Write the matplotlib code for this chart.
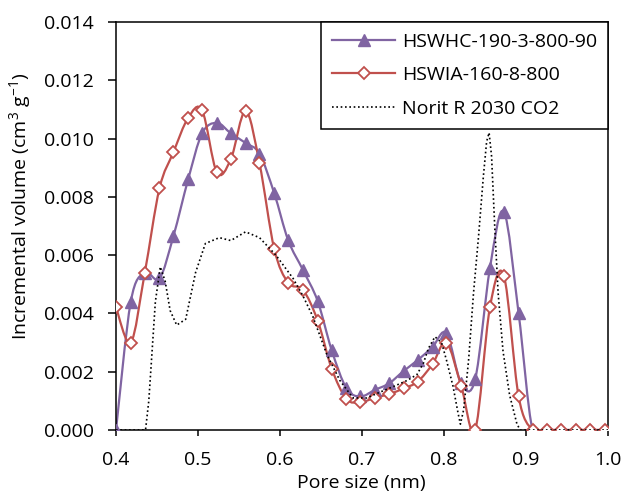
import numpy as np
import matplotlib
matplotlib.use("Agg")
import matplotlib.pyplot as plt
from matplotlib.path import Path
from matplotlib.patches import PathPatch
from matplotlib.lines import Line2D
from matplotlib.ticker import FormatStrFormatter, MultipleLocator

# pore sizes (nm) of the marker series
pore = [0.400, 0.418, 0.435, 0.453, 0.470, 0.488, 0.505, 0.523, 0.540, 0.558,
        0.575, 0.593, 0.610, 0.628, 0.646, 0.663, 0.681, 0.698, 0.716, 0.733,
        0.751, 0.768, 0.786, 0.803, 0.821, 0.838, 0.856, 0.873, 0.891, 0.908,
        0.926, 0.943, 0.961, 0.978, 0.996]

hswhc = [0.0000, 0.00440, 0.00540, 0.00520, 0.00665, 0.00860, 0.01018, 0.01054,
         0.01018, 0.00985, 0.00948, 0.00812, 0.00651, 0.00549, 0.00442, 0.00274,
         0.00143, 0.00115, 0.00138, 0.00160, 0.00203, 0.00240, 0.00285, 0.00332,
         0.00160, 0.00174, 0.00555, 0.00749, 0.00400, 0.0, 0.0, 0.0, 0.0, 0.0, 0.0]

hswia = [0.00421, 0.00300, 0.00538, 0.00829, 0.00953, 0.01071, 0.01097, 0.00884,
         0.00929, 0.01095, 0.00915, 0.00621, 0.00505, 0.00481, 0.00375, 0.00211,
         0.00107, 0.00095, 0.00111, 0.00123, 0.00143, 0.00166, 0.00226, 0.00300,
         0.00151, 0.0, 0.00421, 0.00530, 0.00115, 0.0, 0.0, 0.0, 0.0, 0.0, 0.0]

# Norit R 2030 CO2 reference curve
norit_x = [0.400, 0.436, 0.440, 0.444, 0.448, 0.454, 0.460, 0.466, 0.474, 0.485,
           0.497, 0.509, 0.526, 0.540, 0.558, 0.575, 0.595, 0.616, 0.628, 0.640,
           0.657, 0.673, 0.689, 0.706, 0.722, 0.739, 0.755, 0.767, 0.775, 0.781,
           0.789, 0.797, 0.803, 0.811, 0.817, 0.820, 0.824, 0.830, 0.836, 0.842,
           0.848, 0.852, 0.855, 0.858, 0.862, 0.866, 0.872, 0.880, 0.889, 0.893,
           1.000]
norit_y = [0.0, 0.0, 0.0010, 0.0027, 0.0044, 0.0056, 0.0051, 0.0041, 0.0036, 0.0038,
           0.0054, 0.0064, 0.0066, 0.0065, 0.0068, 0.0066, 0.0060, 0.0052, 0.0046, 0.0039,
           0.0026, 0.0017, 0.0011, 0.0011, 0.0013, 0.0015, 0.0017, 0.0019, 0.0023, 0.0028,
           0.0032, 0.0030, 0.0024, 0.0015, 0.0006, 0.0002, 0.0007, 0.0024, 0.0047, 0.0066,
           0.0087, 0.0099, 0.0102, 0.0094, 0.0069, 0.0047, 0.0027, 0.0012, 0.0002, 0.0,
           0.0]

names = ["HSWHC-190-3-800-90", "HSWIA-160-8-800", "Norit R 2030 CO2"]
purple = "#8064A2"
red = "#C0504D"

plt.rcParams['font.family'] = ['Open Sans', 'DejaVu Sans']
plt.rcParams['mathtext.fontset'] = 'custom'
plt.rcParams['mathtext.rm'] = 'Open Sans'
plt.rcParams['mathtext.it'] = 'Open Sans'
plt.rcParams['font.size'] = 14


def smooth_path(x, y):
    # Excel-style smoothed line: cubic bezier through every point
    p = np.column_stack([x, y])
    n = len(p)
    verts = [p[0]]
    codes = [Path.MOVETO]
    for i in range(n - 1):
        p0 = p[max(i - 1, 0)]
        p1 = p[i]
        p2 = p[i + 1]
        p3 = p[min(i + 2, n - 1)]
        c1 = p1 + (p2 - p0) / 6
        c2 = p2 - (p3 - p1) / 6
        verts += [c1, c2, p2]
        codes += [Path.CURVE4] * 3
    return Path(verts, codes)


fig = plt.figure(figsize=(6.22, 4.95), dpi=100)
ax = fig.add_axes([116 / 622, 65 / 495, 492 / 622, 408 / 495])

for ys, col in [(hswhc, purple), (hswia, red)]:
    ax.add_patch(PathPatch(smooth_path(pore, ys), facecolor='none',
                           edgecolor=col, lw=1.6, zorder=2))

ax.plot(pore, hswhc, ls='none', marker='^', ms=8.5, color=purple, zorder=3)
ax.plot(pore, hswia, ls='none', marker='D', ms=6.0, mfc='white', mec=red,
        mew=1.3, zorder=4)
ax.plot(norit_x, norit_y, ls=(0, (1, 1.6)), lw=1.2, color='black', zorder=5)

ax.set_xlim(0.4, 1.0)
ax.set_ylim(0, 0.014)
ax.xaxis.set_major_locator(MultipleLocator(0.1))
ax.yaxis.set_major_locator(MultipleLocator(0.002))
ax.xaxis.set_major_formatter(FormatStrFormatter('%.1f'))
ax.yaxis.set_major_formatter(FormatStrFormatter('%.3f'))
ax.tick_params(axis='x', direction='out', length=4.5, width=1.1, pad=10.5)
ax.tick_params(axis='y', direction='out', length=5.8, width=1.1, pad=10)
for s in ax.spines.values():
    s.set_linewidth(1.1)

ax.set_xlabel('Pore size (nm)')
ax.set_ylabel('Incremental volume (cm$^{3}$ g$^{\u22121}$)')
ax.xaxis.set_label_coords(0.498, -0.108)
ax.yaxis.set_label_coords(-0.168, 0.549)

handles = [
    Line2D([], [], color=purple, lw=1.6, marker='^', ms=8.5),
    Line2D([], [], color=red, lw=1.6, marker='D', ms=6.0, mfc='white', mew=1.3),
    Line2D([], [], color='black', lw=1.2, ls=(0, (1, 1.6))),
]
leg = ax.legend(handles, names, loc='upper right', bbox_to_anchor=(1, 1),
                borderaxespad=0, fancybox=False, framealpha=1, numpoints=1,
                handlelength=3.25, handletextpad=0.35, labelspacing=0.8,
                borderpad=0.55, fontsize=14)
leg.get_frame().set_edgecolor('black')
leg.get_frame().set_linewidth(1.1)

fig.savefig('out.png', dpi=100)
